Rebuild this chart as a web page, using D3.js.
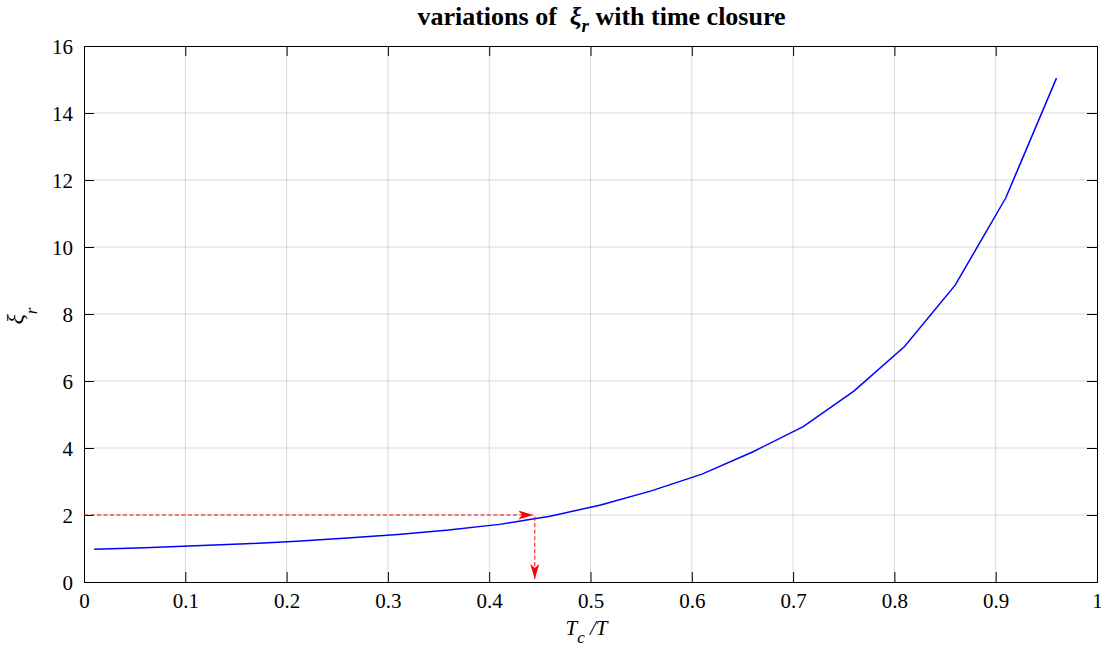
<!DOCTYPE html>
<html>
<head>
<meta charset="utf-8">
<script src="https://cdn.jsdelivr.net/npm/d3@7"></script>
<style>
  body { margin: 0; background: #fff; }
  svg, svg text { font-family: "Liberation Serif", "Times New Roman", serif; }
</style>
</head>
<body>
<svg id="chart" width="1101" height="653"></svg>
<script>
// ratio Tc/T and the xi_r values
const ratio = [0.01, 0.06, 0.11, 0.16, 0.21, 0.26, 0.31, 0.36, 0.41, 0.46,
               0.51, 0.56, 0.61, 0.66, 0.71, 0.76, 0.81, 0.86, 0.91, 0.96]
const xiR = [0.98, 1.02, 1.08, 1.14, 1.22, 1.31, 1.42, 1.55, 1.72, 1.96,
             2.30, 2.72, 3.22, 3.88, 4.64, 5.70, 7.03, 8.86, 11.47, 15.04]

const xTicks = [0, 0.1, 0.2, 0.3, 0.4, 0.5, 0.6, 0.7, 0.8, 0.9, 1]
const yTicks = [0, 2, 4, 6, 8, 10, 12, 14, 16]

// the two dashed guide arrows (start, end)
const arrowAcross = [[0, 2], [0.4435, 2]]
const arrowDown = [[0.445, 1.95], [0.445, 0.09]]

const margin = { top: 46, right: 4, bottom: 71, left: 84 }
const width = 1101 - margin.left - margin.right
const height = 653 - margin.top - margin.bottom

let svg = d3.select("#chart")

svg.append("defs").append("marker")
  .attr("id", "head")
  .attr("markerUnits", "userSpaceOnUse")
  .attr("viewBox", "-16 -6 17 12")
  .attr("refX", 0)
  .attr("refY", 0)
  .attr("markerWidth", 17)
  .attr("markerHeight", 12)
  .attr("orient", "auto")
  .append("path")
  .attr("d", "M0,0 L-15,-4.5 L-11,0 L-15,4.5 Z")
  .attr("fill", "#ff0000")

let chart = svg.append("g")
  .attr("transform", "translate(" + margin.left + "," + margin.top + ")")

let x = d3.scaleLinear().domain([0, 1]).range([0, width])
let y = d3.scaleLinear().domain([0, 16]).range([height, 0])

// grid
chart.append("g")
  .selectAll("line")
  .data(xTicks.slice(1, -1))
  .enter()
  .append("line")
  .attr("x1", d => x(d)).attr("x2", d => x(d))
  .attr("y1", 0).attr("y2", height)
  .attr("stroke", "#000").attr("stroke-opacity", 0.15)

chart.append("g")
  .selectAll("line")
  .data(yTicks.slice(1, -1))
  .enter()
  .append("line")
  .attr("y1", d => y(d)).attr("y2", d => y(d))
  .attr("x1", 0).attr("x2", width)
  .attr("stroke", "#000").attr("stroke-opacity", 0.15)

// axes, ticks pointing inward on all four sides
let xAxis = d3.axisBottom(x).tickValues(xTicks).tickSize(-10).tickPadding(11)
  .tickFormat(d => d3.format("")(d))
let yAxis = d3.axisLeft(y).tickValues(yTicks).tickSize(-10).tickPadding(11)

let gx = chart.append("g")
  .attr("transform", "translate(0," + height + ")")
  .call(xAxis)
let gy = chart.append("g").call(yAxis)
chart.append("g").call(d3.axisTop(x).tickValues(xTicks).tickSize(-10).tickFormat(""))
chart.append("g").attr("transform", "translate(" + width + ",0)")
  .call(d3.axisRight(y).tickValues(yTicks).tickSize(-10).tickFormat(""))

chart.selectAll(".domain").attr("stroke", "#000")
chart.selectAll(".tick line").attr("stroke", "#000")
chart.selectAll(".tick text")
  .style("font-family", "'Liberation Serif', serif")
  .style("font-size", "21px")
  .attr("fill", "#000")
gy.selectAll(".tick text").attr("dy", "0.34em")

// curve
let line = d3.line()
  .x((d, i) => x(ratio[i]))
  .y(d => y(d))

chart.append("path")
  .datum(xiR)
  .attr("d", line)
  .attr("fill", "none")
  .attr("stroke", "#0000ff")
  .attr("stroke-width", 1.5)

let guide = d3.line().x(d => x(d[0])).y(d => y(d[1]))

;[arrowAcross, arrowDown].forEach(function(a) {
  chart.append("path")
    .datum(a)
    .attr("d", guide)
    .attr("fill", "none")
    .attr("stroke", "#ff0000")
    .attr("stroke-width", 1)
    .attr("stroke-dasharray", "4,2.5")
    .attr("marker-end", "url(#head)")
})

// title
let title = svg.append("text")
  .attr("x", margin.left + width / 2 + 11)
  .attr("y", 25)
  .attr("text-anchor", "middle")
  .attr("font-weight", "bold")
  .attr("font-size", 26)
title.append("tspan").text("variations of \u00a0")
title.append("tspan").attr("font-style", "italic").text("\u03be")
title.append("tspan").attr("font-style", "italic").attr("font-size", 19).attr("dy", 7).text("r")
title.append("tspan").attr("dy", -7).text(" with time closure")

// x label
let xl = svg.append("text")
  .attr("x", margin.left + width / 2 - 4)
  .attr("y", 635)
  .attr("text-anchor", "middle")
  .attr("font-size", 21)
  .attr("font-style", "italic")
xl.append("tspan").text("T")
xl.append("tspan").attr("font-size", 17).attr("dy", 8).text("c")
xl.append("tspan").attr("dy", -8).text(" /T")

// y label
let yl = svg.append("text")
  .attr("transform", "translate(23," + (margin.top + height / 2 + 2) + ") rotate(-90)")
  .attr("text-anchor", "middle")
  .attr("font-size", 24)
  .attr("font-style", "italic")
yl.append("tspan").text("\u03be")
yl.append("tspan").attr("font-size", 17).attr("dy", 14).text("r")
</script>
</body>
</html>
